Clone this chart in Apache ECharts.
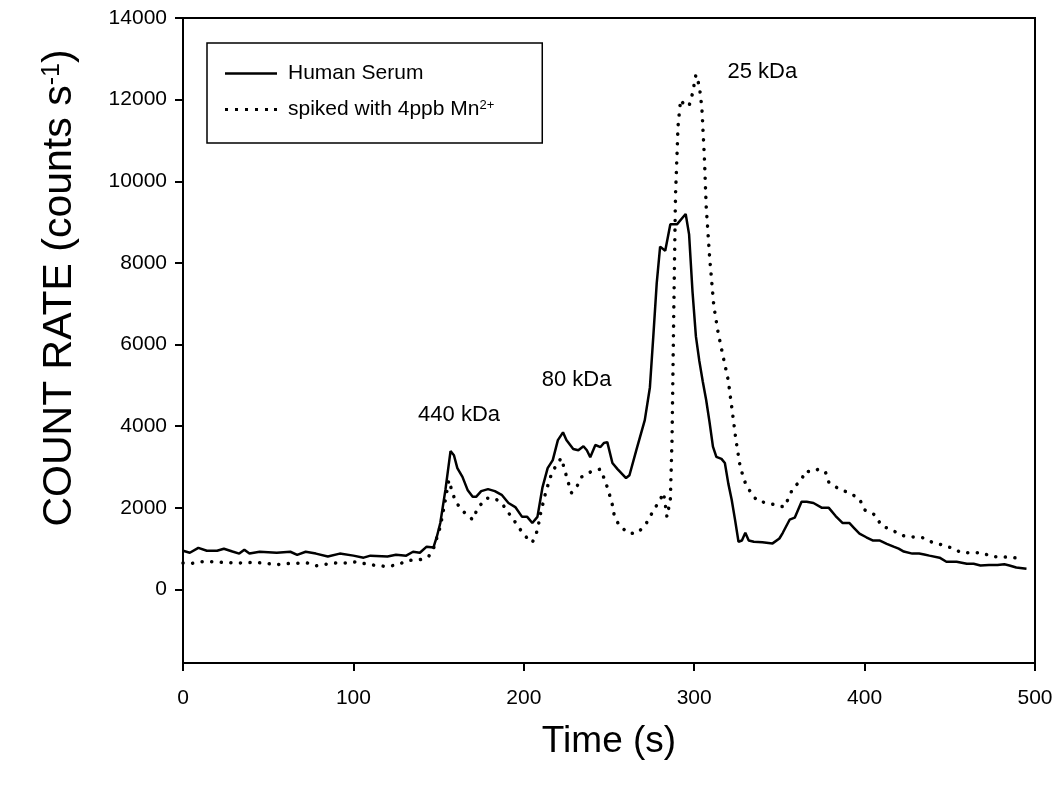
<!DOCTYPE html>
<html>
<head>
<meta charset="utf-8">
<script src="https://cdn.jsdelivr.net/npm/echarts@6/dist/echarts.min.js"></script>
<style>
  html, body { margin: 0; padding: 0; background: #fff; }
  #chart { width: 1063px; height: 785px; }
</style>
</head>
<body>
<div id="chart"></div>
<script>
// Elution time (s) and count rate (counts/s) for each trace
const serumTime = [0,4,9,14,20,24,29,33,36,39,45,55,63,67,72,78,85,92,100,106,110,120,125,131,135,139,143,147,149,151,154,157,159,161,164,167,170,172,175,179,183,187,191,195,199,202,205,208,211,214,217,220,223,225,229,232,235,237,239,242,245,247,249,252,255,260,262,266,271,274,276,278,280,283,286,290,293,295,297,299,301,303,305,307,309,311,313,316,318,320,322,324,326,328,330,332,335,340,346,350,352,356,359,363,366,370,375,379,383,387,391,394,397,401,405,409,413,417,420,423,428,432,435,438,444,448,454,460,464,468,473,478,482,485,489,495];
const serumRate = [950,900,1020,950,950,1000,930,880,975,880,925,900,925,850,925,880,810,880,830,780,830,810,850,830,925,900,1050,1030,1300,1630,2440,3390,3290,2975,2760,2440,2270,2270,2410,2460,2410,2320,2120,2020,1780,1780,1630,1780,2510,2975,3170,3660,3850,3660,3440,3410,3510,3410,3240,3540,3490,3590,3610,3100,2950,2730,2800,3410,4150,4950,6200,7500,8400,8300,8950,8950,9100,9200,8700,7300,6200,5600,5100,4650,4100,3500,3250,3200,3100,2600,2200,1700,1170,1200,1390,1200,1170,1160,1130,1250,1390,1710,1760,2150,2150,2120,2000,2000,1800,1630,1630,1500,1370,1280,1200,1200,1120,1050,1000,930,880,880,860,830,780,680,680,630,630,590,600,600,620,590,540,510];

const spikedTime = [0,5,11,18,25,32,40,47,55,63,73,78,84,90,96,102,109,116,120,126,132,139,144,147,151,154,156,158,160,164,170,173,178,183,187,191,196,200,205,208,210,213,216,219,222,224,226,228,231,234,240,245,248,250,252,253,256,262,267,272,276,280,282,283,284,286,287,288,289,290.5,292,294.5,297,299,301,303,304.5,306,307,309,311.5,314,317,320,322.5,324.5,327,330,333,337,343,348,353,358,363,365,369,373,377,379,385,391,397,400,406,410,416,422,428,434,440,445,451,457,463,469,475,481,487,493];
const spikedRate = [650,640,680,680,660,650,660,650,610,640,650,580,620,650,650,680,610,580,560,610,710,730,800,1000,1540,2200,2680,2390,2150,1930,1710,2000,2240,2230,2120,1880,1590,1340,1150,1450,1900,2400,2800,3050,3220,2930,2630,2370,2510,2760,2900,2950,2630,2370,2070,1830,1560,1370,1390,1630,1930,2200,2370,2100,1780,2200,3700,6760,9610,11340,12000,11850,11850,12150,12610,12340,11800,10560,9410,8170,6950,6300,5700,5120,4320,3660,3000,2610,2390,2170,2120,2070,2020,2490,2680,2900,2880,2950,2880,2630,2460,2370,2220,1950,1830,1560,1460,1320,1290,1270,1150,1100,1020,900,900,900,800,800,780,760];

const seriesNames = ['Human Serum', 'spiked with 4ppb Mn'];
const yTickValues = [0, 2000, 4000, 6000, 8000, 10000, 12000, 14000];
const peakLabels = [
  { name: '440 kDa', time: 162, rate: 4280 },
  { name: '80 kDa', time: 231, rate: 5140 },
  { name: '25 kDa', time: 340, rate: 12670 }
];

const FONT = "'Liberation Sans', Arial, Helvetica, sans-serif";
const zip = (xs, ys) => xs.map((x, i) => [x, ys[i]]);

// Legend key shapes: a solid stroke and a row of dots
const solidKey = 'path://M0,0h52v2.5h-52z';
const dottedKey = 'path://' + [0, 10, 20, 30, 40, 49].map(x => 'M' + x + ',0h3v3h-3z').join(' ');

const chart = echarts.init(document.getElementById('chart'), null, { renderer: 'canvas' });

chart.setOption({
  backgroundColor: '#ffffff',
  animation: false,
  textStyle: { fontFamily: FONT, color: '#000' },
  grid: {
    left: 183, right: 28, top: 18, bottom: 122,
    show: true, borderColor: '#000', borderWidth: 2, backgroundColor: 'transparent'
  },
  legend: {
    orient: 'vertical',
    left: 207, top: 43,
    padding: [20, 48, 23, 18],
    itemGap: 15,
    itemWidth: 52,
    itemHeight: 24,
    borderColor: '#000',
    borderWidth: 1.5,
    borderRadius: 0,
    itemStyle: { color: '#000', borderWidth: 0 },
    data: [
      { name: seriesNames[0], icon: solidKey },
      { name: seriesNames[1], icon: dottedKey }
    ],
    formatter: function (name) {
      return name === seriesNames[1] ? '{t|' + name + '}{sup|2+}' : '{t|' + name + '}';
    },
    textStyle: {
      fontFamily: FONT,
      color: '#000',
      rich: {
        t: { fontSize: 21, fontFamily: FONT, color: '#000', padding: [0, 0, 0, 6] },
        sup: { fontSize: 13, fontFamily: FONT, color: '#000', verticalAlign: 'top', padding: [0, 0, 8, 0] }
      }
    }
  },
  xAxis: {
    type: 'value',
    min: 0, max: 500, interval: 100,
    name: 'Time (s)',
    nameLocation: 'middle',
    nameGap: 60,
    nameTextStyle: { fontSize: 37, fontFamily: FONT, color: '#000' },
    axisLine: { show: true, onZero: false, lineStyle: { color: '#000', width: 2 } },
    axisTick: { show: true, inside: false, length: 8, lineStyle: { color: '#000', width: 2 } },
    axisLabel: { fontSize: 21, color: '#000', fontFamily: FONT, margin: 25 },
    splitLine: { show: false }
  },
  yAxis: {
    type: 'value',
    min: -1800, max: 14000,
    axisLine: { show: true, onZero: false, lineStyle: { color: '#000', width: 2 } },
    axisTick: {
      show: true, inside: false, length: 8,
      customValues: yTickValues,
      lineStyle: { color: '#000', width: 2 }
    },
    axisLabel: {
      fontSize: 21, color: '#000', fontFamily: FONT, margin: 16,
      customValues: yTickValues,
      formatter: v => String(v)
    },
    splitLine: { show: false }
  },
  graphic: [{
    type: 'text',
    x: 60, y: 288,
    rotation: Math.PI / 2,
    style: {
      text: '{a|COUNT RATE (counts s}{sup|-1}{a|)}',
      align: 'center',
      verticalAlign: 'middle',
      fill: '#000',
      rich: {
        a: { fontSize: 41, fontFamily: FONT, fill: '#000' },
        sup: { fontSize: 25, fontFamily: FONT, fill: '#000', verticalAlign: 'top', padding: [0, 0, 16, 0] }
      }
    }
  }],
  series: [
    {
      name: seriesNames[0],
      type: 'line',
      data: zip(serumTime, serumRate),
      symbol: 'none',
      showSymbol: false,
      smooth: false,
      lineStyle: { color: '#000', width: 2.5 },
      itemStyle: { color: '#000' },
      markPoint: {
        symbol: 'circle',
        symbolSize: 1,
        itemStyle: { color: 'rgba(0,0,0,0)' },
        label: {
          show: true, position: 'inside', formatter: '{b}',
          fontSize: 22, fontFamily: FONT, color: '#000'
        },
        data: peakLabels.map(p => ({ name: p.name, coord: [p.time, p.rate] }))
      }
    },
    {
      name: seriesNames[1],
      type: 'line',
      data: zip(spikedTime, spikedRate),
      symbol: 'none',
      showSymbol: false,
      smooth: false,
      lineStyle: { color: '#000', width: 3.5, type: [0.1, 9.5], cap: 'round' },
      itemStyle: { color: '#000' }
    }
  ]
});
</script>
</body>
</html>
